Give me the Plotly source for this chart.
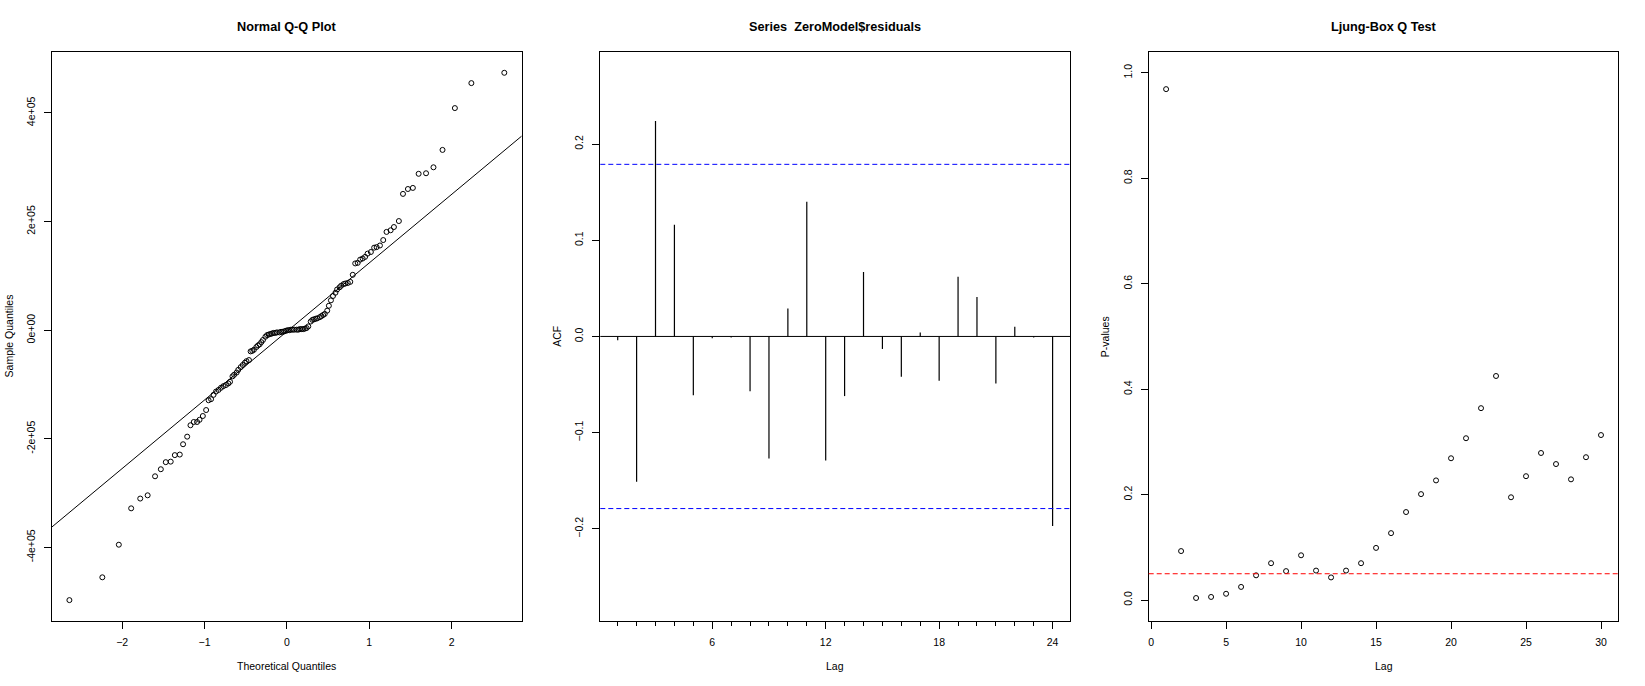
import numpy as np
import plotly.graph_objects as go

# ---- data ----
# Normal Q-Q: theoretical quantiles (x) and sorted residuals (y, in units of 1e5)
theo_q = [-2.64, -2.24, -2.04, -1.89, -1.78, -1.69, -1.60, -1.53, -1.47, -1.41,
          -1.36, -1.30, -1.26, -1.21, -1.17, -1.13, -1.09, -1.06, -1.02, -0.98,
          -0.95, -0.92, -0.89, -0.86, -0.83, -0.80, -0.77, -0.74, -0.71, -0.69,
          -0.66, -0.64, -0.61, -0.59, -0.56, -0.535, -0.51, -0.49, -0.46, -0.44,
          -0.42, -0.40, -0.37, -0.35, -0.33, -0.31, -0.29, -0.26, -0.24, -0.22,
          -0.20, -0.18, -0.16, -0.14, -0.12, -0.09, -0.07, -0.05, -0.03, -0.01,
          0.01, 0.03, 0.05, 0.07, 0.09, 0.12, 0.14, 0.16, 0.18, 0.20,
          0.22, 0.24, 0.26, 0.29, 0.31, 0.33, 0.35, 0.37, 0.40, 0.42,
          0.44, 0.46, 0.49, 0.51, 0.535, 0.56, 0.59, 0.61, 0.64, 0.66,
          0.69, 0.71, 0.74, 0.77, 0.80, 0.83, 0.86, 0.89, 0.92, 0.95,
          0.98, 1.02, 1.06, 1.09, 1.13, 1.17, 1.21, 1.26, 1.30, 1.36,
          1.41, 1.47, 1.53, 1.60, 1.69, 1.78, 1.89, 2.04, 2.24, 2.64]
sample_q_1e5 = [-4.97, -4.55, -3.95, -3.28, -3.10, -3.04, -2.69, -2.56, -2.43, -2.42,
                -2.30, -2.29, -2.10, -1.96, -1.75, -1.69, -1.69, -1.65, -1.58, -1.47,
                -1.29, -1.27, -1.19, -1.13, -1.10, -1.06, -1.03, -1.01, -0.98, -0.95,
                -0.85, -0.82, -0.78, -0.73, -0.68, -0.64, -0.60, -0.57, -0.55, -0.39,
                -0.38, -0.36, -0.31, -0.28, -0.26, -0.22, -0.18, -0.12, -0.09, -0.08,
                -0.07, -0.06, -0.05, -0.05, -0.04, -0.04, -0.03, -0.03, -0.02, -0.01,
                0.00, 0.00, 0.01, 0.01, 0.01, 0.01, 0.01, 0.02, 0.02, 0.02,
                0.03, 0.04, 0.07, 0.16, 0.19, 0.20, 0.21, 0.22, 0.24, 0.26,
                0.28, 0.30, 0.36, 0.45, 0.55, 0.63, 0.69, 0.75, 0.79, 0.82,
                0.85, 0.86, 0.87, 0.89, 1.02, 1.23, 1.24, 1.30, 1.32, 1.35,
                1.41, 1.44, 1.52, 1.53, 1.56, 1.66, 1.81, 1.84, 1.90, 2.01,
                2.51, 2.60, 2.62, 2.88, 2.89, 3.00, 3.32, 4.09, 4.55, 4.74]

# ACF of residuals, lags 1..24
acf_lags = list(range(1, 25))
acf_vals = [-0.004, -0.151, 0.224, 0.116, -0.061, -0.002, -0.001, -0.057, -0.127, 0.029,
            0.140, -0.129, -0.062, 0.067, -0.013, -0.042, 0.004, -0.046, 0.062, 0.041,
            -0.049, 0.010, -0.001, -0.197]
n_obs = 120

# Ljung-Box p-values, lags 1..30
lb_lags = list(range(1, 31))
lb_pvals = [0.969, 0.093, 0.004, 0.006, 0.012, 0.025, 0.047, 0.070, 0.055, 0.085,
            0.056, 0.043, 0.056, 0.070, 0.099, 0.127, 0.167, 0.201, 0.227, 0.269,
            0.307, 0.364, 0.425, 0.195, 0.235, 0.279, 0.258, 0.229, 0.271, 0.313]

qq_yticks = [-4e5, -2e5, 0, 2e5, 4e5]
qq_yticktext = ["-4e+05", "-2e+05", "0e+00", "2e+05", "4e+05"]

# ---- derived ----
sample_q = np.array(sample_q_1e5) * 1e5
y25, y75 = np.quantile(sample_q, [0.25, 0.75])
z25, z75 = -0.6744898, 0.6744898
qq_slope = (y75 - y25) / (z75 - z25)
qq_int = y25 - qq_slope * z25
conf = 1.96 / np.sqrt(n_obs)


def r_range(lo, hi):
    pad = (hi - lo) * 0.04
    return [lo - pad, hi + pad]


W, H = 1645, 686
FONT = "Liberation Sans, Arial, sans-serif"
box_left = [52.0, 600.3, 1148.7]
box_right = [521.7, 1070.0, 1618.4]
box_top, box_bottom = 51.7, 621.2
xdoms = [[l / W, r / W] for l, r in zip(box_left, box_right)]
ydom = [(H - box_bottom) / H, (H - box_top) / H]

fig = go.Figure()

# Q-Q panel
qq_xr = r_range(min(theo_q), max(theo_q))
qq_yr = r_range(sample_q.min(), sample_q.max())
fig.add_trace(go.Scatter(x=theo_q, y=sample_q, mode="markers", xaxis="x", yaxis="y",
                         marker=dict(symbol="circle-open", size=5, color="black",
                                     line=dict(width=1, color="black"))))
fig.add_trace(go.Scatter(x=qq_xr, y=[qq_int + qq_slope * v for v in qq_xr], mode="lines",
                         xaxis="x", yaxis="y", line=dict(color="black", width=1)))

# ACF panel
sx, sy = [], []
for lag, v in zip(acf_lags, acf_vals):
    sx += [lag, lag, None]
    sy += [0, v, None]
fig.add_trace(go.Scatter(x=sx, y=sy, mode="lines", xaxis="x2", yaxis="y2",
                         line=dict(color="black", width=1.2)))

# Ljung-Box panel
fig.add_trace(go.Scatter(x=lb_lags, y=lb_pvals, mode="markers", xaxis="x3", yaxis="y3",
                         marker=dict(symbol="circle-open", size=5, color="black",
                                     line=dict(width=1, color="black"))))

axis_common = dict(showline=True, linecolor="black", linewidth=1, mirror=True,
                   ticks="outside", ticklen=7, tickwidth=1, tickcolor="black",
                   showgrid=False, zeroline=False,
                   tickfont=dict(family=FONT, size=10.5, color="black"))
xcommon = dict(axis_common, ticklabelstandoff=4)
ycommon = dict(axis_common, tickangle=-90, ticklabelstandoff=5)

fig.update_layout(
    width=W, height=H, margin=dict(l=0, r=0, t=0, b=0),
    paper_bgcolor="white", plot_bgcolor="white", showlegend=False,
    xaxis=dict(xcommon, domain=xdoms[0], range=qq_xr, anchor="y",
               tickvals=[-2, -1, 0, 1, 2]),
    yaxis=dict(ycommon, domain=ydom, range=qq_yr, anchor="x",
               tickvals=qq_yticks, ticktext=qq_yticktext),
    xaxis2=dict(xcommon, domain=xdoms[1], range=r_range(1, 24), anchor="y2",
                tickvals=[6, 12, 18, 24],
                minor=dict(tickvals=acf_lags, ticklen=4, ticks="outside",
                           tickcolor="black", tickwidth=1, showgrid=False)),
    yaxis2=dict(ycommon, domain=ydom, range=[-0.296, 0.296], anchor="x2",
                tickvals=[-0.2, -0.1, 0.0, 0.1, 0.2], tickformat=".1f"),
    xaxis3=dict(xcommon, domain=xdoms[2], range=r_range(1, 30), anchor="y3",
                tickvals=[0, 5, 10, 15, 20, 25, 30]),
    yaxis3=dict(ycommon, domain=ydom, range=r_range(0, 1), anchor="x3",
                tickvals=[0, 0.2, 0.4, 0.6, 0.8, 1.0], tickformat=".1f"),
)

# reference lines
fig.add_shape(type="line", xref="x2 domain", yref="y2", x0=0, x1=1, y0=0, y1=0,
              line=dict(color="black", width=1))
for c in (conf, -conf):
    fig.add_shape(type="line", xref="x2 domain", yref="y2", x0=0, x1=1, y0=c, y1=c,
                  line=dict(color="blue", width=1, dash="5px,3px"))
fig.add_shape(type="line", xref="x3 domain", yref="y3", x0=0, x1=1, y0=0.05, y1=0.05,
              line=dict(color="red", width=1, dash="5px,3px"))

# titles and axis labels
titles = ["Normal Q-Q Plot", "Series \u00a0ZeroModel$residuals", "Ljung-Box Q Test"]
xlabels = ["Theoretical Quantiles", "Lag", "Lag"]
ylabels = ["Sample Quantiles", "ACF", "P-values"]
ymid = (ydom[0] + ydom[1]) / 2
for i in range(3):
    xc = (xdoms[i][0] + xdoms[i][1]) / 2
    fig.add_annotation(text="<b>%s</b>" % titles[i], x=xc, y=(H - 27) / H,
                       xref="paper", yref="paper", showarrow=False,
                       xanchor="center", yanchor="middle",
                       font=dict(family=FONT, size=12.7, color="black"))
    fig.add_annotation(text=xlabels[i], x=xc, y=(H - 666) / H,
                       xref="paper", yref="paper", showarrow=False,
                       xanchor="center", yanchor="middle",
                       font=dict(family=FONT, size=10.5, color="black"))
    fig.add_annotation(text=ylabels[i], x=(box_left[i] - 43) / W, y=ymid,
                       xref="paper", yref="paper", showarrow=False, textangle=-90,
                       xanchor="center", yanchor="middle",
                       font=dict(family=FONT, size=10.5, color="black"))

# drop the page's default 8px body margin so the figure sits at the window origin
fig.write_html("out.html", config={"displayModeBar": False},
               post_script="document.body.style.margin='0';")
